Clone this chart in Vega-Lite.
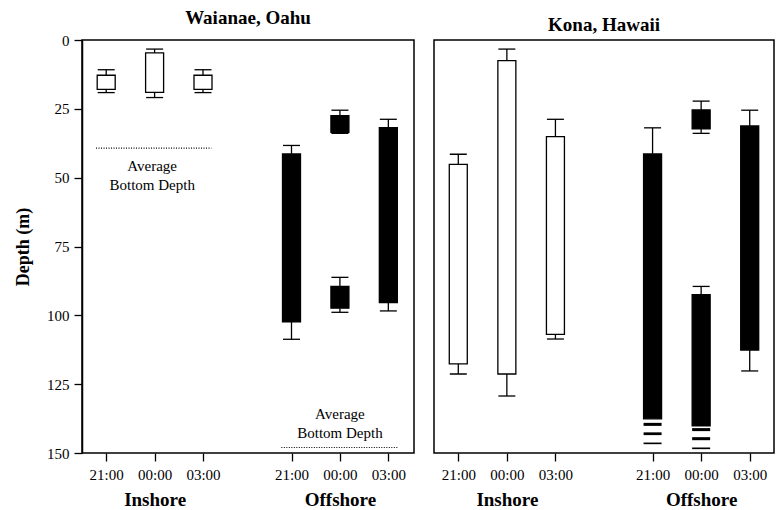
{
  "$schema": "https://vega.github.io/schema/vega-lite/v6.json",
  "autosize": {"type": "pad"},
  "padding": {"left": 13, "top": 8, "right": 0, "bottom": 0},
  "background": "white",
  "config": {
    "font": "Liberation Serif",
    "view": {"stroke": "black", "strokeWidth": 1.5},
    "axis": {
      "labelFont": "Liberation Serif", "labelFontSize": 15, "labelColor": "black",
      "tickColor": "black", "tickSize": 8, "tickWidth": 1.3, "domainColor": "black", "domainWidth": 1.5,
      "grid": false, "titleFont": "Liberation Serif", "titleFontSize": 18, "titleFontWeight": "bold", "titleColor": "black"
    },
    "title": {"font": "Liberation Serif", "fontSize": 19, "fontWeight": "bold", "color": "black", "baseline": "alphabetic", "offset": 5},
    "concat": {"spacing": 18}
  },
  "datasets": {
    "boxes": [
      {"panel": "Oahu", "zone": "Inshore", "time": "21:00", "slot": 1, "wt": 10.8, "bt": 12.8, "bb": 17.9, "wb": 19.1},
      {"panel": "Oahu", "zone": "Inshore", "time": "00:00", "slot": 2, "wt": 3.3, "bt": 4.7, "bb": 19.0, "wb": 20.9},
      {"panel": "Oahu", "zone": "Inshore", "time": "03:00", "slot": 3, "wt": 10.8, "bt": 12.8, "bb": 17.9, "wb": 19.1},
      {"panel": "Oahu", "zone": "Offshore", "time": "21:00", "slot": 5, "wt": 38.3, "bt": 41.4, "bb": 102.4, "wb": 108.7},
      {"panel": "Oahu", "zone": "Offshore", "time": "00:00", "slot": 6, "wt": 25.5, "bt": 27.5, "bb": 33.5, "wb": 33.9},
      {"panel": "Oahu", "zone": "Offshore", "time": "00:00", "slot": 6, "wt": 86.2, "bt": 89.5, "bb": 97.4, "wb": 98.9},
      {"panel": "Oahu", "zone": "Offshore", "time": "03:00", "slot": 7, "wt": 28.8, "bt": 31.8, "bb": 95.4, "wb": 98.4},
      {"panel": "Kona", "zone": "Inshore", "time": "21:00", "slot": 1, "wt": 41.5, "bt": 45.2, "bb": 117.6, "wb": 121.3},
      {"panel": "Kona", "zone": "Inshore", "time": "00:00", "slot": 2, "wt": 3.3, "bt": 7.5, "bb": 121.3, "wb": 129.3},
      {"panel": "Kona", "zone": "Inshore", "time": "03:00", "slot": 3, "wt": 28.8, "bt": 35.1, "bb": 106.9, "wb": 108.6},
      {"panel": "Kona", "zone": "Offshore", "time": "21:00", "slot": 5, "wt": 31.9, "bt": 41.4, "bb": 137.6, "wb": null},
      {"panel": "Kona", "zone": "Offshore", "time": "00:00", "slot": 6, "wt": 22.2, "bt": 25.4, "bb": 32.3, "wb": 33.9},
      {"panel": "Kona", "zone": "Offshore", "time": "00:00", "slot": 6, "wt": 89.5, "bt": 92.5, "bb": 140.1, "wb": null},
      {"panel": "Kona", "zone": "Offshore", "time": "03:00", "slot": 7, "wt": 25.5, "bt": 31.2, "bb": 112.6, "wb": 120.2}
    ],
    "dashes": [
      {"panel": "Kona", "slot": 5, "top": 139.05, "bot": 140.15},
      {"panel": "Kona", "slot": 5, "top": 142.5, "bot": 143.5},
      {"panel": "Kona", "slot": 5, "top": 146.2, "bot": 146.8},
      {"panel": "Kona", "slot": 6, "top": 140.95, "bot": 142.05},
      {"panel": "Kona", "slot": 6, "top": 144.25, "bot": 145.35},
      {"panel": "Kona", "slot": 6, "top": 148.0, "bot": 148.6}
    ],
    "bottom": [
      {"panel": "Oahu", "from": 0.79, "to": 3.19, "depth": 39.3},
      {"panel": "Oahu", "from": 4.77, "to": 7.19, "depth": 148.0}
    ],
    "notes": [
      {"panel": "Oahu", "slot": 1.95, "depth": 45.7, "text": "Average\nBottom Depth"},
      {"panel": "Oahu", "slot": 6, "depth": 135.9, "text": "Average\nBottom Depth"}
    ]
  },
  "hconcat": [
    {
      "width": 332,
      "height": 413,
      "title": {"text": "Waianae, Oahu"},
      "resolve": {"axis": {"x": "independent"}},
      "layer": [
        {
          "layer": [
            {
              "data": {"name": "bottom"},
              "transform": [{"filter": "datum.panel == 'Oahu'"}],
              "mark": {"type": "rule", "color": "black", "strokeWidth": 1.2, "strokeDash": [1, 1.5]},
              "encoding": {
                "x": {"field": "from", "type": "quantitative",
                  "scale": {"domain": [0.5, 3, 5, 7.53], "range": [0, 121, 209.5, 332], "nice": false, "zero": false, "padding": 0},
                  "axis": {"values": [1, 2, 3, 5, 6, 7], "domain": false, "title": null, "labelPadding": 6,
                    "labelExpr": "(datum.value == 1 || datum.value == 5) ? '21:00' : (datum.value == 2 || datum.value == 6) ? '00:00' : '03:00'"}},
                "x2": {"field": "to"},
                "y": {"field": "depth", "type": "quantitative",
                  "scale": {"domain": [0, 150], "reverse": true, "nice": false, "zero": false},
                  "axis": {"values": [0, 25, 50, 75, 100, 125, 150], "title": "Depth (m)", "labelPadding": 5, "titlePadding": 14}}
              }
            },
            {
              "data": {"name": "notes"},
              "transform": [{"filter": "datum.panel == 'Oahu'"}],
              "mark": {"type": "text", "fontSize": 15, "font": "Liberation Serif", "color": "black", "lineBreak": "\n", "lineHeight": 19, "align": "center", "baseline": "middle"},
              "encoding": {
                "x": {"field": "slot", "type": "quantitative"},
                "y": {"field": "depth", "type": "quantitative"},
                "text": {"field": "text"}
              }
            },
            {
              "data": {"name": "boxes"},
              "transform": [{"filter": "datum.panel == 'Oahu'"}],
              "layer": [
                {"mark": {"type": "rule", "color": "black", "strokeWidth": 1.3},
                 "encoding": {"x": {"field": "slot", "type": "quantitative"}, "y": {"field": "wt", "type": "quantitative"}, "y2": {"field": "bt"}}},
                {"transform": [{"filter": "isValid(datum.wb)"}],
                 "mark": {"type": "rule", "color": "black", "strokeWidth": 1.3},
                 "encoding": {"x": {"field": "slot", "type": "quantitative"}, "y": {"field": "bb", "type": "quantitative"}, "y2": {"field": "wb"}}},
                {"mark": {"type": "tick", "orient": "horizontal", "size": 17, "thickness": 1.3, "color": "black", "opacity": 1},
                 "encoding": {"x": {"field": "slot", "type": "quantitative"}, "y": {"field": "wt", "type": "quantitative"}}},
                {"transform": [{"filter": "isValid(datum.wb)"}],
                 "mark": {"type": "tick", "orient": "horizontal", "size": 17, "thickness": 1.3, "color": "black", "opacity": 1},
                 "encoding": {"x": {"field": "slot", "type": "quantitative"}, "y": {"field": "wb", "type": "quantitative"}}},
                {"mark": {"type": "bar", "size": 18, "stroke": "black", "strokeWidth": 1.3},
                 "encoding": {"x": {"field": "slot", "type": "quantitative"}, "y": {"field": "bt", "type": "quantitative"}, "y2": {"field": "bb"},
                   "fill": {"field": "zone", "type": "nominal", "scale": {"domain": ["Inshore", "Offshore"], "range": ["white", "black"]}, "legend": null}}}
              ]
            }
          ]
        },
        {
          "data": {"name": "boxes"},
          "transform": [{"filter": "datum.panel == 'Oahu'"}],
          "mark": {"type": "point", "opacity": 0},
          "encoding": {
            "x": {"field": "slot", "type": "quantitative",
              "axis": {"orient": "bottom", "values": [2, 6], "ticks": false, "domain": false, "title": null, "labelPadding": 37,
                "labelFontSize": 19, "labelFontWeight": "bold",
                "labelExpr": "datum.value < 4 ? 'Inshore' : 'Offshore'"}}
          }
        }
      ]
    },
    {
      "width": 340,
      "height": 413,
      "title": {"text": "Kona, Hawaii"},
      "resolve": {"axis": {"x": "independent"}},
      "layer": [
        {
          "layer": [
            {
              "data": {"name": "boxes"},
              "transform": [{"filter": "datum.panel == 'Kona'"}],
              "layer": [
                {"mark": {"type": "rule", "color": "black", "strokeWidth": 1.3},
                 "encoding": {
                   "x": {"field": "slot", "type": "quantitative", "scale": {"domain": [0.5, 7.5], "nice": false, "zero": false, "padding": 0},
                     "axis": {"values": [1, 2, 3, 5, 6, 7], "domain": false, "title": null, "labelPadding": 6,
                       "labelExpr": "(datum.value == 1 || datum.value == 5) ? '21:00' : (datum.value == 2 || datum.value == 6) ? '00:00' : '03:00'"}},
                   "y": {"field": "wt", "type": "quantitative", "scale": {"domain": [0, 150], "reverse": true, "nice": false, "zero": false}, "axis": null},
                   "y2": {"field": "bt"}}},
                {"transform": [{"filter": "isValid(datum.wb)"}],
                 "mark": {"type": "rule", "color": "black", "strokeWidth": 1.3},
                 "encoding": {"x": {"field": "slot", "type": "quantitative"}, "y": {"field": "bb", "type": "quantitative"}, "y2": {"field": "wb"}}},
                {"mark": {"type": "tick", "orient": "horizontal", "size": 17, "thickness": 1.3, "color": "black", "opacity": 1},
                 "encoding": {"x": {"field": "slot", "type": "quantitative"}, "y": {"field": "wt", "type": "quantitative"}}},
                {"transform": [{"filter": "isValid(datum.wb)"}],
                 "mark": {"type": "tick", "orient": "horizontal", "size": 17, "thickness": 1.3, "color": "black", "opacity": 1},
                 "encoding": {"x": {"field": "slot", "type": "quantitative"}, "y": {"field": "wb", "type": "quantitative"}}},
                {"mark": {"type": "bar", "size": 18, "stroke": "black", "strokeWidth": 1.3},
                 "encoding": {"x": {"field": "slot", "type": "quantitative"}, "y": {"field": "bt", "type": "quantitative"}, "y2": {"field": "bb"},
                   "fill": {"field": "zone", "type": "nominal", "scale": {"domain": ["Inshore", "Offshore"], "range": ["white", "black"]}, "legend": null}}}
              ]
            },
            {
              "data": {"name": "dashes"},
              "mark": {"type": "bar", "size": 18, "color": "black"},
              "encoding": {
                "x": {"field": "slot", "type": "quantitative"},
                "y": {"field": "top", "type": "quantitative"},
                "y2": {"field": "bot"}
              }
            }
          ]
        },
        {
          "data": {"name": "boxes"},
          "transform": [{"filter": "datum.panel == 'Kona'"}],
          "mark": {"type": "point", "opacity": 0},
          "encoding": {
            "x": {"field": "slot", "type": "quantitative",
              "axis": {"orient": "bottom", "values": [2, 6], "ticks": false, "domain": false, "title": null, "labelPadding": 37,
                "labelFontSize": 19, "labelFontWeight": "bold",
                "labelExpr": "datum.value < 4 ? 'Inshore' : 'Offshore'"}}
          }
        }
      ]
    }
  ]
}
